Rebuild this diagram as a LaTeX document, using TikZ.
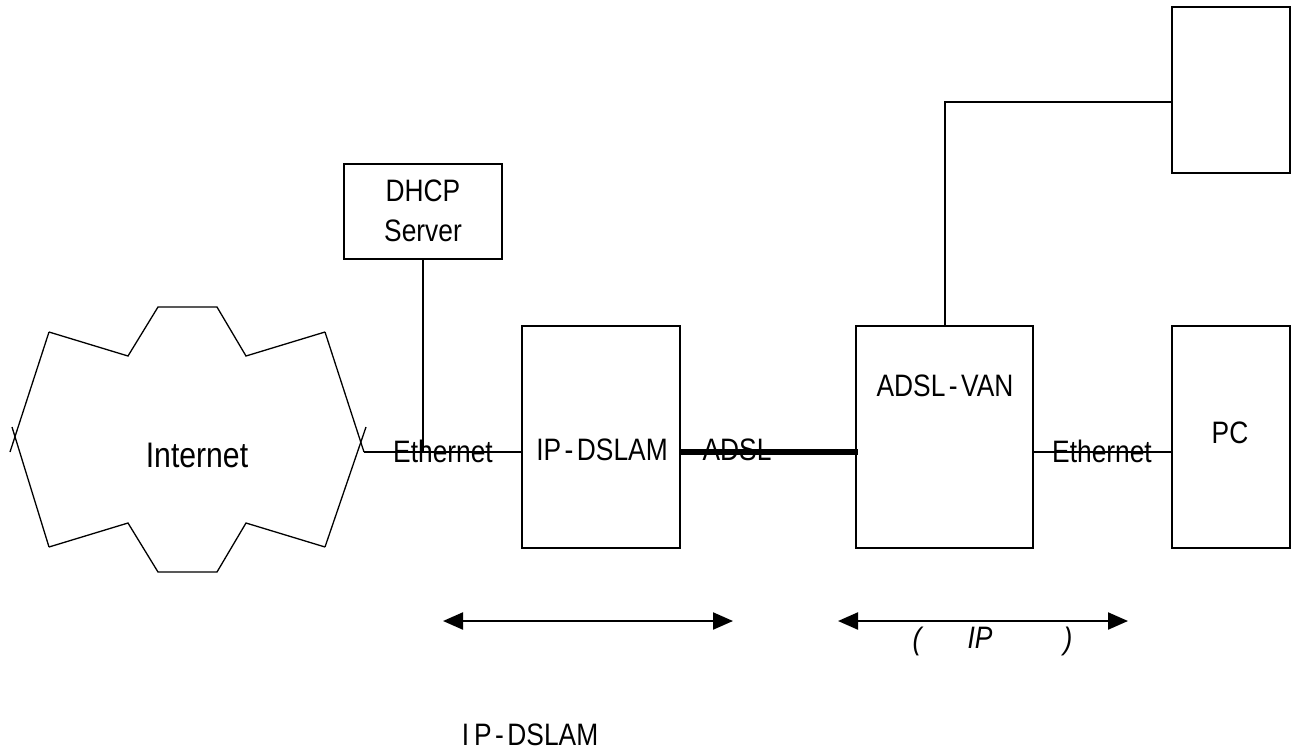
\documentclass[tikz,border=0pt]{standalone}
\usepackage{fontspec}
\setmainfont{Liberation Sans}[FakeStretch=0.85]
\usetikzlibrary{arrows.meta}
\newcommand{\dash}{\kern3.5pt-\kern3.5pt}
\begin{document}
\begin{tikzpicture}[x=1pt,y=-1pt,
  line width=1.3pt,
  box/.style={draw, inner sep=0pt, outer sep=0pt},
  lbl/.style={inner sep=0pt, font=\fontsize{31}{40}\selectfont},
  span/.style={line width=2.2pt, {Triangle[length=20pt,width=17pt]}-{Triangle[length=20pt,width=17pt]}},
  adsl/.style={line width=5.5pt}]
\useasboundingbox (0,0) rectangle (1292,753);

% boxes
\node[box, minimum width=158pt, minimum height=95pt]  (dhcp)  at (423,211.5) {};
\node[box, minimum width=158pt, minimum height=222pt] (dslam) at (601,437) {};
\node[box, minimum width=177pt, minimum height=222pt] (van)   at (944.5,437) {};
\node[box, minimum width=118pt, minimum height=222pt] (pc)    at (1231,437) {};
\node[box, minimum width=118pt, minimum height=166pt] (tv)    at (1231,90) {};

% Internet cloud (edges overshoot at both side tips)
\coordinate (c1) at (49,332);
\coordinate (c2) at (128,356);
\coordinate (c3) at (158,307);
\coordinate (c4) at (217,307);
\coordinate (c5) at (246,356);
\coordinate (c6) at (325,332);
\coordinate (c7) at (325,547);
\coordinate (c8) at (246,523);
\coordinate (c9) at (217,572);
\coordinate (c10) at (158,572);
\coordinate (c11) at (128,523);
\coordinate (c12) at (49,547);
\draw (c1) -- (c2) -- (c3) -- (c4) -- (c5) -- (c6);
\draw (c12) -- (c11) -- (c10) -- (c9) -- (c8) -- (c7);
\draw (c1) -- (10,452);
\draw (c12) -- (12,427);
\draw (c6) -- (364,452);
\draw (c7) -- (366,427);
\coordinate (netR) at (364,452);
\node[lbl, font=\fontsize{35.5}{40}\selectfont] (inet) at (197,455) {Internet};

% links
\draw (netR) -- (netR -| dslam.west);
\draw (dhcp.south) -- (dhcp.south |- netR);
\draw[adsl] (dslam.east |- netR) -- ([xshift=2pt]van.west |- netR);
\draw (van.east |- netR) -- (pc.west |- netR);
\coordinate (bend) at (945,102);
\draw (van.north -| bend) -- (bend) -- (bend -| tv.west);

% labels
\node[lbl, align=center] (dhcpt) at (423,211) {DHCP\\Server};
\node[lbl] (eth1) at (443,451) {Ethernet};
\node[lbl] (dslamt) at (602,450) {IP\dash DSLAM};
\node[lbl] (adslt) at (737,450) {ADSL};
\node[lbl] (vant) at (945,386) {ADSL\dash VAN};
\node[lbl] (eth2) at (1102,451) {Ethernet};
\node[lbl] (pct) at (1230,433) {PC};

% spans
\coordinate (a1) at (443,621);
\coordinate (a2) at (733,621);
\coordinate (b1) at (838,621);
\coordinate (b2) at (1128,621);
\draw[span] (a1) -- (a2);
\draw[span] (b1) -- (b2);
\node[lbl, font=\fontsize{31}{32}\selectfont\itshape] (lp) at (917,641) {(};
\node[lbl, font=\fontsize{31}{32}\selectfont\itshape] (ip) at (980,638) {IP};
\node[lbl, font=\fontsize{31}{32}\selectfont\itshape] (rp) at (1068,641) {)};

\node[lbl] (cap) at (530,735) {I\hspace{5pt}P\dash DSLAM};
\end{tikzpicture}
\end{document}
